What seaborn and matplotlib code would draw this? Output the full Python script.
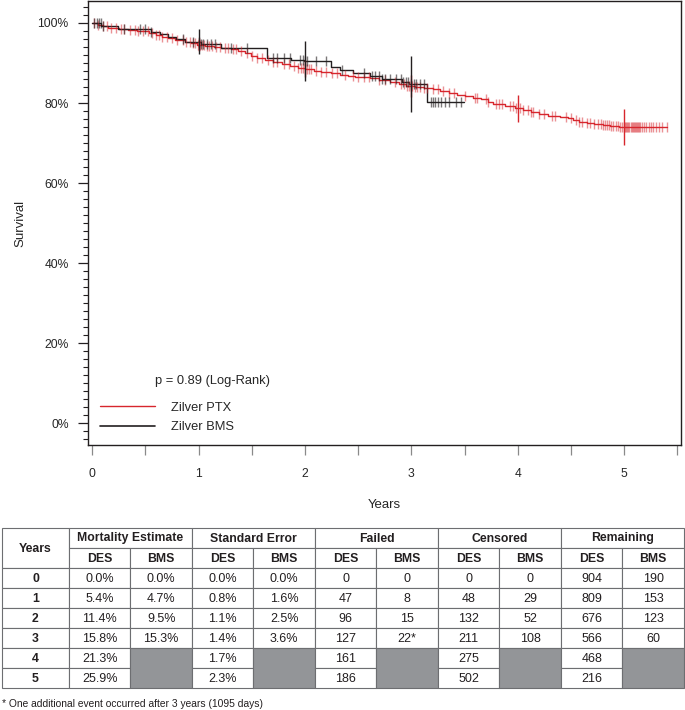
import numpy as np
import seaborn as sns
import matplotlib.pyplot as plt
from matplotlib.lines import Line2D
from matplotlib.patches import Rectangle
from matplotlib.ticker import MultipleLocator, FuncFormatter

# Kaplan-Meier steps (years, survival)
ptx_time = [0, 0.05, 0.10, 0.15, 0.25, 0.34, 0.42, 0.53, 0.60, 0.66, 0.71, 0.78, 0.87, 0.93,
            0.98, 1.06, 1.14, 1.21, 1.30, 1.37, 1.44, 1.49, 1.55, 1.62, 1.70, 1.78, 1.86,
            1.93, 2.00, 2.08, 2.15, 2.24, 2.33, 2.40, 2.47, 2.55, 2.61, 2.70, 2.80, 2.88,
            2.95, 3.03, 3.12, 3.20, 3.27, 3.35, 3.43, 3.50, 3.58, 3.65, 3.72, 3.77, 3.88,
            3.97, 4.05, 4.12, 4.20, 4.28, 4.40, 4.47, 4.52, 4.58, 4.65, 4.72, 4.80, 4.87, 4.95]
ptx_surv = [1.0, 0.996, 0.992, 0.988, 0.986, 0.983, 0.980, 0.975, 0.970, 0.966, 0.963, 0.958,
            0.953, 0.949, 0.946, 0.942, 0.939, 0.937, 0.934, 0.930, 0.924, 0.918, 0.912,
            0.907, 0.902, 0.897, 0.892, 0.887, 0.885, 0.881, 0.878, 0.874, 0.870, 0.868,
            0.866, 0.864, 0.862, 0.858, 0.853, 0.848, 0.843, 0.840, 0.837, 0.834, 0.830,
            0.826, 0.820, 0.817, 0.813, 0.809, 0.803, 0.797, 0.792, 0.788, 0.783, 0.777,
            0.772, 0.768, 0.766, 0.762, 0.758, 0.753, 0.749, 0.747, 0.745, 0.743, 0.741]
ptx_end = 5.40

bms_time = [0, 0.085, 0.24, 0.55, 0.64, 0.71, 0.79, 0.87, 1.02, 1.21, 1.64, 1.87, 1.99, 2.24,
            2.33, 2.45, 2.61, 2.72, 2.91, 2.98, 3.15]
bms_surv = [1.0, 0.992, 0.985, 0.978, 0.972, 0.966, 0.959, 0.953, 0.948, 0.937, 0.913, 0.907,
            0.905, 0.889, 0.882, 0.876, 0.868, 0.859, 0.853, 0.847, 0.802]
bms_end = 3.49

# censoring times (years)
ptx_censor = [0.02, 0.05, 0.10, 0.14, 0.18, 0.22, 0.27, 0.30, 0.35, 0.40, 0.43, 0.48, 0.52,
              0.56, 0.60, 0.63, 0.66, 0.70, 0.75, 0.80, 0.85, 0.88, 0.92, 0.95, 0.97, 0.99,
              1.00, 1.01, 1.03, 1.05, 1.08, 1.10, 1.13, 1.16, 1.20, 1.25, 1.28, 1.32, 1.35,
              1.40, 1.45, 1.50, 1.55, 1.60, 1.65, 1.70, 1.74, 1.80, 1.85, 1.90, 1.93, 1.96,
              1.98, 2.00, 2.02, 2.04, 2.06, 2.10, 2.15, 2.20, 2.25, 2.30, 2.38, 2.45, 2.50,
              2.55, 2.60, 2.70, 2.75, 2.85, 2.90, 2.93, 2.96, 2.98, 3.00, 3.01, 3.03, 3.05,
              3.08, 3.12, 3.15, 3.20, 3.25, 3.30, 3.35, 3.40, 3.50, 3.60, 3.62, 3.70, 3.72,
              3.80, 3.82, 3.85, 3.93, 3.96, 3.98, 4.02, 4.05, 4.10, 4.12, 4.14, 4.20, 4.25,
              4.32, 4.35, 4.45, 4.50, 4.55, 4.58, 4.60, 4.65, 4.68, 4.72, 4.75, 4.78, 4.80,
              4.82, 4.84, 4.86, 4.88, 4.90, 4.92, 4.94, 4.96, 4.98, 5.00, 5.01, 5.02, 5.03,
              5.04, 5.05, 5.06, 5.07, 5.08, 5.09, 5.10, 5.11, 5.12, 5.13, 5.14, 5.15, 5.17,
              5.19, 5.21, 5.23, 5.25, 5.27, 5.30, 5.33, 5.36, 5.40]
bms_censor = [0.02, 0.04, 0.06, 0.08, 0.10, 0.30, 0.45, 0.50, 0.55, 0.85, 0.95, 1.00, 1.02,
              1.04, 1.08, 1.12, 1.15, 1.30, 1.45, 1.70, 1.74, 1.80, 1.86, 1.95, 1.98, 2.00,
              2.02, 2.10, 2.20, 2.35, 2.55, 2.63, 2.66, 2.70, 2.72, 2.75, 2.80, 2.86, 2.90,
              2.92, 2.95, 2.97, 3.00, 3.02, 3.04, 3.08, 3.12, 3.18, 3.20, 3.22, 3.25, 3.28,
              3.32, 3.35, 3.42, 3.47]

# life table
years = [0, 1, 2, 3, 4, 5]
mort_des = [0.0, 5.4, 11.4, 15.8, 21.3, 25.9]
mort_bms = [0.0, 4.7, 9.5, 15.3, None, None]
se_des = [0.0, 0.8, 1.1, 1.4, 1.7, 2.3]
se_bms = [0.0, 1.6, 2.5, 3.6, None, None]
failed_des = ['0', '47', '96', '127', '161', '186']
failed_bms = ['0', '8', '15', '22*', None, None]
censored_des = [0, 48, 132, 211, 275, 502]
censored_bms = [0, 29, 52, 108, None, None]
remaining_des = [904, 809, 676, 566, 468, 216]
remaining_bms = [190, 153, 123, 60, None, None]

RED = '#d7262d'
BLACK = '#231f20'
GRID = '#6d6e71'
GRAY = '#939598'

sns.set_style('white')
plt.rcParams['font.family'] = ['Liberation Sans', 'DejaVu Sans']

fig = plt.figure(figsize=(6.85, 7.1), dpi=100)
ax = fig.add_axes([0.1285, 0.3732, 0.8657, 0.6254])


def step_at(t, s, pts):
    idx = np.searchsorted(t, pts, side='right') - 1
    return np.asarray(s)[idx]


for t, s, end, col in [(ptx_time, ptx_surv, ptx_end, RED),
                       (bms_time, bms_surv, bms_end, BLACK)]:
    xs = list(t) + [end]
    ys = list(s) + [s[-1]]
    sns.lineplot(x=xs, y=ys, drawstyle='steps-post', estimator=None, sort=False,
                 color=col, linewidth=1.0, ax=ax)

for t, s, cens, col, a in [(ptx_time, ptx_surv, ptx_censor, RED, 0.5),
                           (bms_time, bms_surv, bms_censor, BLACK, 0.6)]:
    cy = step_at(t, s, cens)
    ax.plot(cens, cy, linestyle='none', marker='|', markersize=7, markeredgewidth=1.0,
            color=col, alpha=a)

# 95% CI bars at each year
for mort, se, col in [(mort_des, se_des, RED), (mort_bms, se_bms, BLACK)]:
    for yr, m, e in zip(years, mort, se):
        if m is None or yr == 0:
            continue
        sv = 1 - m / 100
        h = 1.96 * e / 100
        ax.vlines(yr, sv - h, sv + h, color=col, linewidth=1.0)

ax.set_xlim(-0.04, 5.535)
ax.set_ylim(-0.055, 1.055)
ax.xaxis.set_major_locator(MultipleLocator(0.5))
ax.xaxis.set_major_formatter(FuncFormatter(lambda v, p: f'{v:.0f}' if abs(v - round(v)) < 1e-6 else ''))
ax.yaxis.set_major_locator(MultipleLocator(0.2))
ax.yaxis.set_minor_locator(MultipleLocator(0.02))
ax.yaxis.set_major_formatter(FuncFormatter(lambda v, p: f'{v * 100:.0f}%'))
ax.tick_params(axis='y', which='major', direction='out', length=7, width=0.9, color=BLACK,
               labelsize=8.7, pad=7, left=True)
ax.tick_params(axis='y', which='minor', direction='out', length=3.5, width=0.8, color=BLACK, left=True)
ax.tick_params(axis='x', which='major', direction='out', length=7, width=0.9, color='#8a8a8a',
               labelsize=8.7, pad=9.5, bottom=True)
for sp in ax.spines.values():
    sp.set_color(BLACK)
    sp.set_linewidth(1.0)
ax.set_xlabel('Years', fontsize=9.5, labelpad=14)
ax.set_ylabel('Survival', fontsize=9.5, labelpad=8)

ax.text(0.59, 0.105, 'p = 0.89 (Log-Rank)', fontsize=9.3, va='center', ha='left')
handles = [Line2D([], [], color=RED, linewidth=1.0), Line2D([], [], color=BLACK, linewidth=1.2)]
ax.legend(handles, ['Zilver PTX', 'Zilver BMS'], loc='lower left', bbox_to_anchor=(0.0, 0.0),
          frameon=False, fontsize=9.3, handlelength=4.3, handletextpad=1.2, labelspacing=0.6)

# life table underneath
tab = fig.add_axes([0, 0, 1, 1])
tab.set_xlim(0, 685)
tab.set_ylim(710, 0)
tab.axis('off')

x0, yw, cw, rh, top = 2, 67, 61.5, 20, 528


def cell(x, y, w, h, txt='', bold=False, face='white'):
    tab.add_patch(Rectangle((x, y), w, h, facecolor=face, edgecolor=GRID, linewidth=0.8))
    if txt:
        tab.text(x + w / 2, y + h / 2 + 0.5, txt, ha='center', va='center',
                 fontsize=8.8 if bold else 9.0, fontweight='bold' if bold else 'normal',
                 color='#231f20')


pct = lambda v: f'{v:.1f}%'
groups = [('Mortality Estimate', [pct(v) for v in mort_des], [None if v is None else pct(v) for v in mort_bms]),
          ('Standard Error', [pct(v) for v in se_des], [None if v is None else pct(v) for v in se_bms]),
          ('Failed', failed_des, failed_bms),
          ('Censored', [str(v) for v in censored_des], [None if v is None else str(v) for v in censored_bms]),
          ('Remaining', [str(v) for v in remaining_des], [None if v is None else str(v) for v in remaining_bms])]

cell(x0, top, yw, 2 * rh, 'Years', bold=True)
for r, yr in enumerate(years):
    cell(x0, top + 2 * rh + r * rh, yw, rh, str(yr), bold=True)

for g, (name, des, bms) in enumerate(groups):
    gx = x0 + yw + g * 2 * cw
    cell(gx, top, 2 * cw, rh, name, bold=True)
    cell(gx, top + rh, cw, rh, 'DES', bold=True)
    cell(gx + cw, top + rh, cw, rh, 'BMS', bold=True)
    for r in range(len(years)):
        ry = top + 2 * rh + r * rh
        cell(gx, ry, cw, rh, des[r])
        if bms[r] is not None:
            cell(gx + cw, ry, cw, rh, bms[r])
    nb = sum(v is None for v in bms)
    cell(gx + cw, top + 2 * rh + (len(years) - nb) * rh, cw, nb * rh, face=GRAY)

tab.text(2, 704, '* One additional event occurred after 3 years (1095 days)', fontsize=7.4,
         ha='left', va='center', color='#231f20')

fig.savefig('out.png', dpi=100)
